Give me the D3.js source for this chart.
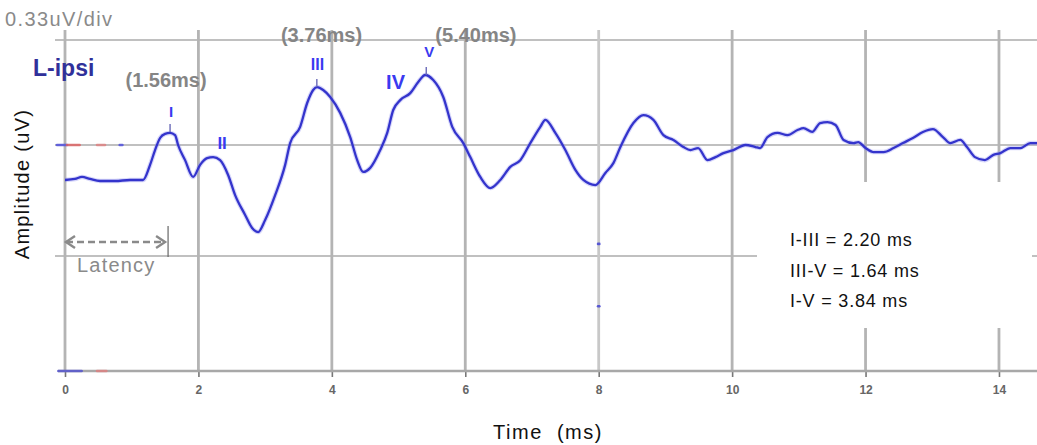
<!DOCTYPE html>
<html>
<head>
<meta charset="utf-8">
<script src="https://cdn.jsdelivr.net/npm/d3@7"></script>
<style>
  html, body { margin: 0; padding: 0; background: #fff; }
  svg { display: block; font-family: 'Liberation Sans', Arial, sans-serif; }
</style>
</head>
<body>
<div id="chart"></div>
<script>
// ABR waveform: time in ms, amplitude in uV (0.33 uV per division)
const waveT = [0, 0.15, 0.255, 0.375, 0.525, 0.75, 0.975, 1.17, 1.275, 1.35, 1.425, 1.5, 1.575, 1.65, 1.695,
  1.8, 1.92, 2.025, 2.13, 2.22, 2.325, 2.445, 2.55, 2.7, 2.805, 2.895, 3.0, 3.15, 3.3, 3.375, 3.525, 3.63,
  3.72, 3.78, 3.87, 3.975, 4.125, 4.275, 4.38, 4.47, 4.575, 4.725, 4.83, 4.92, 5.025, 5.175, 5.295, 5.4,
  5.52, 5.67, 5.805, 5.97, 6.075, 6.225, 6.375, 6.525, 6.675, 6.825, 6.975, 7.125, 7.2, 7.35, 7.5, 7.65,
  7.77, 7.95, 8.1, 8.22, 8.325, 8.52, 8.67, 8.82, 8.97, 9.12, 9.27, 9.375, 9.49, 9.63, 9.75, 9.87, 10.02,
  10.2, 10.35, 10.42, 10.53, 10.68, 10.83, 10.98, 11.07, 11.2, 11.32, 11.43, 11.55, 11.67, 11.82, 11.89,
  12.0, 12.12, 12.27, 12.42, 12.56, 12.71, 12.86, 13.01, 13.16, 13.27, 13.42, 13.52, 13.64, 13.79, 13.91,
  14.02, 14.17, 14.32, 14.47, 14.57];
const waveUv = [-0.104, -0.101, -0.095, -0.101, -0.107, -0.107, -0.104, -0.104, -0.059, -0.015, 0.022, 0.035,
  0.038, 0.031, 0.0, -0.045, -0.095, -0.059, -0.039, -0.036, -0.045, -0.089, -0.149, -0.208, -0.247, -0.259,
  -0.223, -0.149, -0.059, 0.006, 0.057, 0.132, 0.173, 0.182, 0.173, 0.151, 0.101, 0.025, -0.045, -0.080,
  -0.068, -0.015, 0.038, 0.110, 0.141, 0.163, 0.198, 0.220, 0.204, 0.151, 0.057, 0.006, -0.036, -0.095,
  -0.128, -0.104, -0.065, -0.045, 0.006, 0.057, 0.079, 0.038, -0.015, -0.074, -0.104, -0.119, -0.083,
  -0.054, -0.006, 0.069, 0.094, 0.079, 0.031, 0.016, -0.006, -0.015, -0.009, -0.045, -0.036, -0.024,
  -0.015, 0.0, -0.006, -0.009, 0.025, 0.038, 0.031, 0.047, 0.053, 0.041, 0.069, 0.072, 0.063, 0.016,
  0.006, 0.009, -0.009, -0.021, -0.021, -0.009, 0.006, 0.022, 0.041, 0.050, 0.025, 0.006, 0.016, -0.006,
  -0.036, -0.045, -0.030, -0.024, -0.009, -0.009, 0.006, 0.006];

// Marked peaks (latency ms, amplitude uV) and their latency captions
const peakT = [1.56, 3.76, 5.40];
const peakUv = [0.041, 0.182, 0.220];
const peakCaption = ["(1.56ms)", "(3.76ms)", "(5.40ms)"];
const captionT = [1.515, 3.845, 6.16];
const captionUv = [0.182, 0.324, 0.324];

// Roman numeral wave labels
const waveNames = ["I", "II", "III", "IV", "V"];
const waveNameT = [1.59, 2.355, 3.785, 4.955, 5.46];
const waveNameUv = [0.088, -0.012, 0.236, 0.176, 0.277];
const waveNameSize = [15, 17, 16, 20, 15];

// Inter-peak intervals
const intervals = ["I-III = 2.20 ms", "III-V = 1.64 ms", "I-V = 3.84 ms"];

// Axis ticks
const xTicks = [0, 2, 4, 6, 8, 10, 12, 14];
const yDivs = [-0.66, -0.33, 0, 0.33];   // gridlines, 0.33 uV apart

// Stray stimulus / cursor dots seen in the trace area
const strayDots = [
  { t0: -0.12, t1: 0.03, uv: 0, c: "#4a4ae0" },
  { t0: 0.03, t1: 0.22, uv: 0, c: "#e06060" },
  { t0: 0.48, t1: 0.6, uv: 0, c: "#e08080" },
  { t0: 0.82, t1: 0.86, uv: 0, c: "#4a4ae0" },
  { t0: -0.1, t1: 0.25, uv: -0.66, c: "#5050d0" },
  { t0: 0.48, t1: 0.62, uv: -0.66, c: "#e08080" },
  { t0: 7.99, t1: 8.01, uv: -0.294, c: "#3a3ad4" },
  { t0: 7.99, t1: 8.01, uv: -0.474, c: "#3a3ad4" }
];

const W = 1037, H = 445;
const svg = d3.select("#chart").append("svg")
  .attr("width", W).attr("height", H)
  .attr("viewBox", `0 0 ${W} ${H}`);

svg.append("rect").attr("width", W).attr("height", H).attr("fill", "#fff");

const x = d3.scaleLinear().domain([0, 14.57]).range([65, 1037]);
// gridlines in the picture are not evenly spaced, so use a piecewise scale
const y = d3.scaleLinear().domain(yDivs).range([371, 256, 145, 40]);

// horizontal gridlines
svg.append("g").selectAll("line").data(yDivs.slice(1)).join("line")
  .attr("x1", 55).attr("x2", W)
  .attr("y1", d => y(d)).attr("y2", d => y(d))
  .attr("stroke", "#c0c0c0").attr("stroke-width", 2.2);

// vertical gridlines
svg.append("g").selectAll("line").data(xTicks).join("line")
  .attr("x1", d => x(d)).attr("x2", d => x(d))
  .attr("y1", 30).attr("y2", y(-0.66))
  .attr("stroke", d => d === 8 ? "#c8c8c8" : "#b4b4b4").attr("stroke-width", 2.8);

// x axis
const xAxis = svg.append("g")
  .attr("transform", `translate(0,${y(-0.66)})`)
  .call(d3.axisBottom(x).tickValues(xTicks).tickSize(6).tickPadding(8))
  .call(g => g.select(".domain").remove());
xAxis.selectAll(".tick line").attr("stroke", "#777").attr("stroke-width", 1.6);
xAxis.selectAll("text")
  .attr("fill", "#666").attr("font-size", 12).attr("font-weight", "bold")
  .style("font-family", "'Liberation Sans', Arial, sans-serif");
svg.append("line")
  .attr("x1", 58).attr("x2", W).attr("y1", y(-0.66)).attr("y2", y(-0.66))
  .attr("stroke", "#a8a8a8").attr("stroke-width", 2.4);

// stray dots
svg.append("g").selectAll("line").data(strayDots).join("line")
  .attr("x1", d => x(d.t0)).attr("x2", d => x(d.t1))
  .attr("y1", d => y(d.uv)).attr("y2", d => y(d.uv))
  .attr("stroke", d => d.c).attr("stroke-width", 2.6).attr("stroke-linecap", "round")
  .attr("opacity", 0.8);

// white box behind interval text
svg.append("rect")
  .attr("x", 757).attr("y", 182).attr("width", 275).attr("height", 146)
  .attr("fill", "#fff");

// waveform
const pts = waveT.map((t, i) => [t, waveUv[i]]);
const line = d3.line().x(d => x(d[0])).y(d => y(d[1])).curve(d3.curveMonotoneX);
svg.append("path").datum(pts).attr("d", line)
  .attr("fill", "none").attr("stroke", "#8c8cf0").attr("stroke-width", 4.5).attr("opacity", 0.35)
  .attr("stroke-linejoin", "round");
svg.append("path").datum(pts).attr("d", line)
  .attr("fill", "none").attr("stroke", "#3434cc").attr("stroke-width", 2.3)
  .attr("stroke-linejoin", "round");

// peak ticks
svg.append("g").selectAll("line").data(peakT).join("line")
  .attr("x1", d => x(d) + 1).attr("x2", d => x(d) + 1)
  .attr("y1", (d, i) => y(peakUv[i]) - 8).attr("y2", (d, i) => y(peakUv[i]))
  .attr("stroke", "#6a6ab8").attr("stroke-width", 1.4);

// latency captions
svg.append("g").selectAll("text").data(peakCaption).join("text")
  .attr("x", (d, i) => x(captionT[i])).attr("y", (d, i) => y(captionUv[i]))
  .attr("text-anchor", "middle")
  .attr("font-size", 20).attr("font-weight", "bold").attr("fill", "#858585")
  .text(d => d);

// roman numerals
svg.append("g").selectAll("text").data(waveNames).join("text")
  .attr("x", (d, i) => x(waveNameT[i])).attr("y", (d, i) => y(waveNameUv[i]))
  .attr("text-anchor", "middle")
  .attr("font-size", (d, i) => waveNameSize[i]).attr("font-weight", "bold")
  .attr("fill", "#3a3af0")
  .text(d => d);

// channel name and scale
svg.append("text").attr("x", 33).attr("y", 76)
  .attr("font-size", 23).attr("font-weight", "bold").attr("fill", "#30309a")
  .text("L-ipsi");
svg.append("text").attr("x", 5).attr("y", 26)
  .attr("font-size", 20).attr("letter-spacing", 1.4).attr("fill", "#8a8a8a")
  .text("0.33uV/div");

// latency arrow
const arrowY = 242;
svg.append("line")
  .attr("x1", x(0) + 1).attr("x2", x(1.56) - 4).attr("y1", arrowY).attr("y2", arrowY)
  .attr("stroke", "#8a8a8a").attr("stroke-width", 2.4).attr("stroke-dasharray", "7,4");
const head = d3.line();
svg.append("path")
  .attr("d", head([[x(0) + 10, arrowY - 6], [x(0) + 1, arrowY], [x(0) + 10, arrowY + 6]]))
  .attr("fill", "none").attr("stroke", "#8a8a8a").attr("stroke-width", 2.4);
svg.append("path")
  .attr("d", head([[x(1.56) - 13, arrowY - 6], [x(1.56) - 4, arrowY], [x(1.56) - 13, arrowY + 6]]))
  .attr("fill", "none").attr("stroke", "#8a8a8a").attr("stroke-width", 2.4);
svg.append("line")
  .attr("x1", x(1.56) - 1).attr("x2", x(1.56) - 1).attr("y1", 226).attr("y2", 257)
  .attr("stroke", "#666").attr("stroke-width", 1.2);
svg.append("text").attr("x", 77).attr("y", 272)
  .attr("font-size", 20).attr("letter-spacing", 1.2).attr("fill", "#8a8a8a")
  .text("Latency");

// interval text
svg.append("g").selectAll("text").data(intervals).join("text")
  .attr("x", 790).attr("y", (d, i) => 246 + i * 30.5)
  .attr("font-size", 18).attr("letter-spacing", 0.8).attr("fill", "#111")
  .text(d => d);

// axis titles
svg.append("text")
  .attr("transform", "translate(29,184) rotate(-90)")
  .attr("text-anchor", "middle")
  .attr("font-size", 20).attr("letter-spacing", 1.3).attr("fill", "#111")
  .text("Amplitude (uV)");
svg.append("text").attr("x", 548).attr("y", 439)
  .attr("text-anchor", "middle")
  .attr("font-size", 20).attr("letter-spacing", 1.5).attr("fill", "#111")
  .style("white-space", "pre")
  .text("Time  (ms)");
</script>
</body>
</html>
